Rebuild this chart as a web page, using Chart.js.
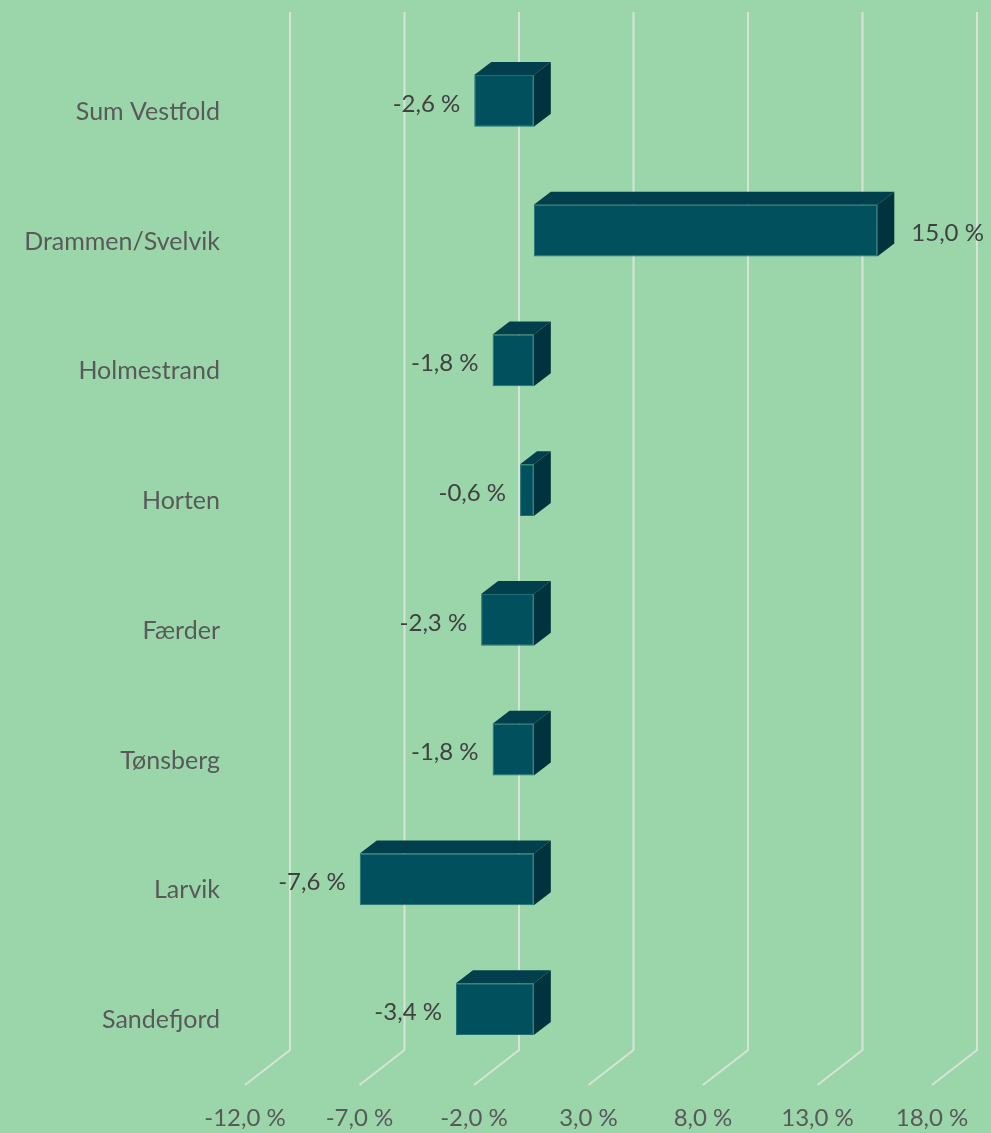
<!DOCTYPE html>
<html>
<head>
<meta charset="utf-8">
<script src="https://cdn.jsdelivr.net/npm/chart.js@4.4.1/dist/chart.umd.min.js"></script>
<style>
  html, body { margin: 0; padding: 0; background: #9bd6aa; }
  #wrap { width: 991px; height: 1133px; }
</style>
</head>
<body>
<div id="wrap"><canvas id="chart"></canvas></div>
<script>
var categories = ["Sum Vestfold", "Drammen/Svelvik", "Holmestrand", "Horten", "Færder", "Tønsberg", "Larvik", "Sandefjord"];
var values = [-2.6, 15.0, -1.8, -0.6, -2.3, -1.8, -7.6, -3.4];
var xMin = -12;
var xMax = 18;
var xStep = 5;

var fontFamily = "Lato, 'Open Sans', sans-serif";

function fmt(v) {
    return v.toFixed(1).replace(".", ",") + " %";
}

// 3D look: depth of bars and of the back wall / floor
var barDepth = { dx: 17, dy: -13 };
var wallDepth = { dx: 31, dy: -24 };
var floorFront = { dx: -14, dy: 11 };

function noPadding(s) {
    s.paddingTop = 0;
    s.paddingBottom = 0;
    s.paddingLeft = 0;
    s.paddingRight = 0;
}

var threeD = {
    id: "threeD",
    beforeDatasetsDraw(chart) {
        var ctx = chart.ctx;
        var area = chart.chartArea;
        var xs = chart.scales.x;
        ctx.save();
        ctx.strokeStyle = "#d6e3d6";
        ctx.lineWidth = 2;
        for (var v = xMin; v <= xMax; v += xStep) {
            var px = xs.getPixelForValue(v);
            ctx.beginPath();
            ctx.moveTo(px + wallDepth.dx, area.top + wallDepth.dy);
            ctx.lineTo(px + wallDepth.dx, area.bottom + wallDepth.dy);
            ctx.lineTo(px + floorFront.dx, area.bottom + floorFront.dy);
            ctx.stroke();
        }
        ctx.restore();
    },
    afterDatasetsDraw(chart) {
        var ctx = chart.ctx;
        var meta = chart.getDatasetMeta(0);
        ctx.save();
        meta.data.forEach((bar, i) => {
            var p = bar.getProps(["x", "y", "base", "height"], true);
            var x1 = Math.min(p.x, p.base), x2 = Math.max(p.x, p.base);
            var y1 = p.y - p.height / 2, y2 = p.y + p.height / 2;
            // top face
            ctx.fillStyle = "#003f4b";
            ctx.beginPath();
            ctx.moveTo(x1, y1);
            ctx.lineTo(x1 + barDepth.dx, y1 + barDepth.dy);
            ctx.lineTo(x2 + barDepth.dx, y1 + barDepth.dy);
            ctx.lineTo(x2, y1);
            ctx.closePath();
            ctx.fill();
            // side face
            ctx.fillStyle = "#00333d";
            ctx.beginPath();
            ctx.moveTo(x2, y1);
            ctx.lineTo(x2 + barDepth.dx, y1 + barDepth.dy);
            ctx.lineTo(x2 + barDepth.dx, y2 + barDepth.dy);
            ctx.lineTo(x2, y2);
            ctx.closePath();
            ctx.fill();

            // value label
            var v = values[i];
            ctx.fillStyle = "#404040";
            ctx.font = "24px " + fontFamily;
            ctx.textBaseline = "middle";
            if (v < 0) {
                ctx.textAlign = "right";
                ctx.fillText(fmt(v), x1 - 14, p.y + 3);
            } else {
                ctx.textAlign = "left";
                ctx.fillText(fmt(v), x2 + 34, p.y + 3);
            }
        });
        ctx.restore();
    }
};

new Chart(document.getElementById("chart"), {
    type: "bar",
    data: {
        labels: categories,
        datasets: [{
            data: values,
            backgroundColor: "#00505e",
            borderColor: "#1f6e74",
            borderWidth: 1,
            borderSkipped: false,
            categoryPercentage: 1,
            barPercentage: 0.4
        }]
    },
    options: {
        indexAxis: "y",
        responsive: true,
        maintainAspectRatio: false,
        animation: false,
        layout: {
            padding: { top: 36, right: 45, bottom: 0, left: 0 }
        },
        plugins: {
            legend: { display: false },
            tooltip: { enabled: false }
        },
        scales: {
            x: {
                min: xMin,
                max: xMax,
                afterFit: (s) => { s.height = 59; noPadding(s); },
                grid: { display: false },
                border: { display: false },
                ticks: {
                    stepSize: xStep,
                    padding: 22,
                    labelOffset: floorFront.dx,
                    color: "#595959",
                    font: { family: fontFamily, size: 24 },
                    maxRotation: 0,
                    callback: (v) => fmt(v)
                }
            },
            y: {
                afterFit: (s) => { s.width = 259; noPadding(s); },
                grid: { display: false },
                border: { display: false },
                ticks: {
                    padding: 31,
                    labelOffset: 11,
                    color: "#595959",
                    font: { family: fontFamily, size: 25 }
                }
            }
        }
    },
    plugins: [threeD]
});
</script>
</body>
</html>
